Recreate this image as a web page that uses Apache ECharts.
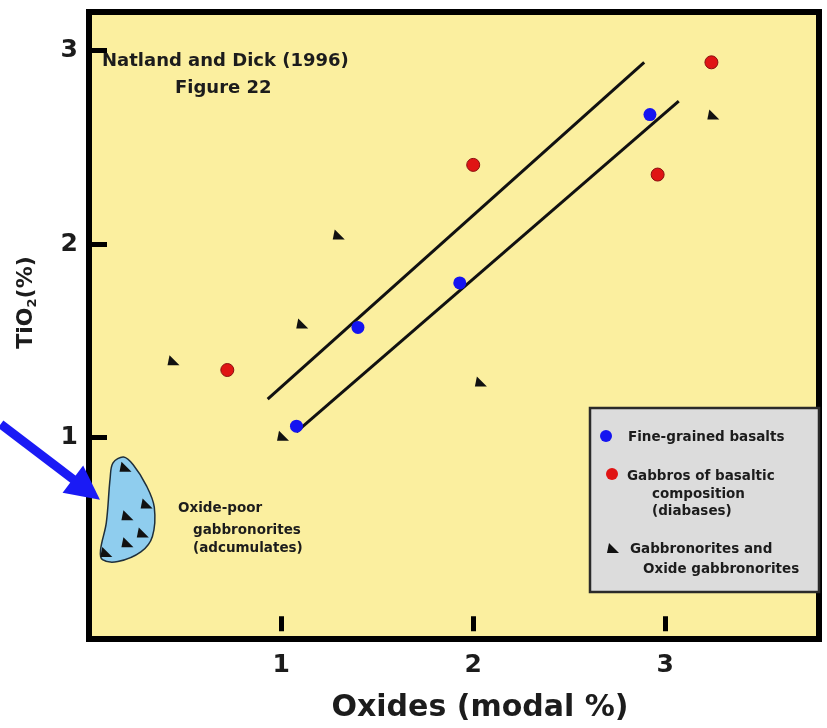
<!DOCTYPE html>
<html>
<head>
<meta charset="utf-8">
<script src="https://cdn.jsdelivr.net/npm/echarts@6/dist/echarts.min.js"></script>
<style>
  html, body { margin: 0; padding: 0; background: #ffffff; }
  #chart { width: 827px; height: 728px; }
</style>
</head>
<body>
<div id="chart"></div>
<script>
// Modal oxide content vs. bulk TiO2, [oxides %, TiO2 %]
const fineGrainedBasalts = [[1.08, 1.06], [1.40, 1.57], [1.93, 1.80], [2.92, 2.67]];
const basalticGabbros = [[0.72, 1.35], [2.00, 2.41], [2.96, 2.36], [3.24, 2.94]];
const gabbronorites = [
  [0.44, 1.40], [1.30, 2.05], [1.11, 1.59], [2.04, 1.29], [1.01, 1.01], [3.25, 2.67],
  [0.19, 0.85], [0.30, 0.66], [0.20, 0.60], [0.28, 0.51], [0.20, 0.46], [0.09, 0.41]
];
// Bounding trend lines
const upperTrend = [[0.93, 1.20], [2.89, 2.94]];
const lowerTrend = [[1.08, 1.03], [3.07, 2.74]];
// Outline of the oxide-poor gabbronorite field
const adcumulateField = [
  [0.125, 0.87], [0.18, 0.90], [0.23, 0.86], [0.30, 0.75], [0.34, 0.64], [0.33, 0.49],
  [0.27, 0.41], [0.15, 0.36], [0.07, 0.37], [0.06, 0.42], [0.09, 0.56], [0.11, 0.79]
];
// Pointer toward the field (tail, head)
const fieldPointer = [[-0.46, 1.07], [0.057, 0.68]];
const xTicks = [1, 2, 3];
const yTicks = [1, 2, 3];

const FONT = '"DejaVu Sans", Verdana, sans-serif';
const TRI = 'path://M2,0 L12,10 L0,10 Z';
const INK = '#1c1c1c';

const chart = echarts.init(document.getElementById('chart'), null, { renderer: 'canvas' });

const option = {
  animation: false,
  backgroundColor: '#ffffff',
  grid: {
    left: 89, right: 8, top: 12, bottom: 88,
    show: true,
    backgroundColor: '#fbef9f',
    borderColor: '#000000',
    borderWidth: 6
  },
  xAxis: {
    type: 'value',
    min: 0, max: 3.8, interval: 1,
    axisLine: { show: false },
    splitLine: { show: false },
    axisTick: { show: true, inside: true, length: 15, lineStyle: { color: '#000', width: 5 }, customValues: xTicks },
    axisLabel: { customValues: xTicks, margin: 14, fontSize: 25, fontWeight: 'bold', color: INK, fontFamily: FONT },
    name: 'Oxides (modal %)',
    nameLocation: 'middle',
    nameGap: 54,
    nameTextStyle: { fontSize: 30, fontWeight: 'bold', color: INK, fontFamily: FONT, padding: [0, 0, 0, 52] }
  },
  yAxis: {
    type: 'value',
    min: -0.04, max: 3.2,
    axisLine: { show: false },
    splitLine: { show: false },
    axisTick: { show: true, inside: true, length: 18, lineStyle: { color: '#000', width: 5 }, customValues: yTicks },
    axisLabel: { customValues: yTicks, margin: 11, fontSize: 25, fontWeight: 'bold', color: INK, fontFamily: FONT },
    name: '{a|TiO}{b|2}{a|(%)}',
    nameLocation: 'middle',
    nameGap: 50,
    nameTextStyle: {
      color: INK,
      fontFamily: FONT,
      padding: [0, 0, 0, 46],
      rich: {
        a: { fontSize: 22, fontWeight: 'bold', color: INK, fontFamily: FONT, lineHeight: 26 },
        b: { fontSize: 13, fontWeight: 'bold', color: INK, fontFamily: FONT, verticalAlign: 'bottom', lineHeight: 26, padding: [8, 0, 0, 0] }
      }
    }
  },
  series: [
    {
      name: 'Adcumulate field',
      type: 'custom',
      coordinateSystem: 'cartesian2d',
      data: [0],
      z: 1,
      renderItem: function (params, api) {
        const pts = adcumulateField.map(p => api.coord(p));
        return {
          type: 'polygon',
          shape: { points: pts, smooth: 0.35 },
          style: { fill: '#8fcdee', stroke: '#1f2f3a', lineWidth: 1.5 }
        };
      }
    },
    {
      name: 'Upper trend', type: 'line', data: upperTrend, symbol: 'none', z: 2,
      lineStyle: { color: '#111', width: 3 }
    },
    {
      name: 'Lower trend', type: 'line', data: lowerTrend, symbol: 'none', z: 2,
      lineStyle: { color: '#111', width: 3 }
    },
    {
      name: 'Gabbronorites and Oxide gabbronorites', type: 'scatter', data: gabbronorites, z: 3,
      symbol: TRI, symbolSize: [12, 10],
      itemStyle: { color: '#111111', opacity: 1 }
    },
    {
      name: 'Fine-grained basalts', type: 'scatter', data: fineGrainedBasalts, z: 4,
      symbol: 'circle', symbolSize: 13,
      itemStyle: { color: '#1414f0', opacity: 1 }
    },
    {
      name: 'Gabbros of basaltic composition (diabases)', type: 'scatter', data: basalticGabbros, z: 4,
      symbol: 'circle', symbolSize: 13,
      itemStyle: { color: '#e01414', borderColor: '#8a1010', borderWidth: 1, opacity: 1 }
    }
  ]
};
chart.setOption(option);

// Annotations, key and pointer placed after the axes exist
function px(p) { return chart.convertToPixel({ gridIndex: 0 }, p); }

const tail = px(fieldPointer[0]);
const head = px(fieldPointer[1]);
const ang = Math.atan2(head[1] - tail[1], head[0] - tail[0]);
const headLen = 34, headHalf = 17;
const baseX = head[0] - headLen * Math.cos(ang), baseY = head[1] - headLen * Math.sin(ang);
const nx = -Math.sin(ang), ny = Math.cos(ang);

// Left-aligned bold label, vertically centred on y
const txt = (x, y, s, size) => ({
  type: 'text', x: x, y: y, z: 20,
  style: { text: s, fontSize: size, fontWeight: 'bold', fill: INK, fontFamily: FONT, align: 'left', verticalAlign: 'middle' }
});

const KEY_FS = 13.5;
const key = {
  type: 'group', z: 30,
  children: [
    { type: 'rect', shape: { x: 590, y: 408, width: 229, height: 184 },
      style: { fill: '#dcdcdc', stroke: '#2a2a2a', lineWidth: 2.5 } },
    { type: 'circle', shape: { cx: 606, cy: 436, r: 6 }, style: { fill: '#1414f0' } },
    txt(628, 437, 'Fine-grained basalts', KEY_FS),
    { type: 'circle', shape: { cx: 612, cy: 474, r: 6 }, style: { fill: '#e01414' } },
    txt(627, 476, 'Gabbros of basaltic', KEY_FS),
    txt(652, 494, 'composition', KEY_FS),
    txt(652, 511, '(diabases)', KEY_FS),
    { type: 'polygon', shape: { points: [[609, 543], [619, 553], [607, 553]] }, style: { fill: '#111' } },
    txt(630, 549, 'Gabbronorites and', KEY_FS),
    txt(643, 569, 'Oxide gabbronorites', KEY_FS)
  ]
};

chart.setOption({
  graphic: [
    txt(102, 61, 'Natland and Dick (1996)', 18),
    txt(175, 88, 'Figure 22', 18),
    txt(178, 508, 'Oxide-poor', 13.5),
    txt(193, 530, 'gabbronorites', 13.5),
    txt(193, 548, '(adcumulates)', 13.5),
    key,
    {
      type: 'line', z: 40,
      shape: { x1: tail[0], y1: tail[1], x2: baseX + 4 * Math.cos(ang), y2: baseY + 4 * Math.sin(ang) },
      style: { stroke: '#1a1af5', lineWidth: 9 }
    },
    {
      type: 'polygon', z: 40,
      shape: { points: [head, [baseX + nx * headHalf, baseY + ny * headHalf], [baseX - nx * headHalf, baseY - ny * headHalf]] },
      style: { fill: '#1a1af5' }
    }
  ]
});
</script>
</body>
</html>
